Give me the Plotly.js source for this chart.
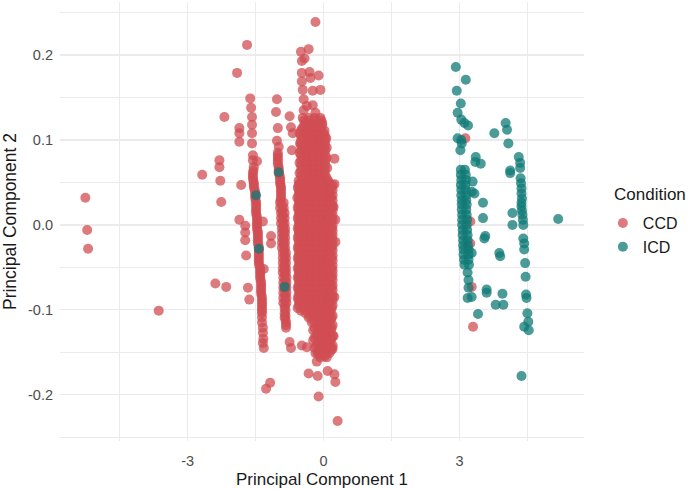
<!DOCTYPE html>
<html><head><meta charset="utf-8">
<script src="https://cdn.plot.ly/plotly-3.0.1.min.js"></script>
<style>html,body{margin:0;padding:0;background:#fff}</style>
</head><body><div id="chart" style="width:690px;height:489px"></div>
<script>
const seriesNames = ['CCD', 'ICD'];
const legendTitle = 'Condition';
const xTitle = 'Principal Component 1';
const yTitle = 'Principal Component 2';
const xTickVals = [-3, 0, 3];
const xTickText = ['-3', '0', '3'];
const xMinorVals = [-4.5, -1.5, 1.5, 4.5];
const yTickVals = [-0.2, -0.1, 0, 0.1, 0.2];
const yTickText = ['-0.2', '-0.1', '0.0', '0.1', '0.2'];
const yMinorVals = [-0.25, -0.15, -0.05, 0.05, 0.15, 0.25];

// CCD: isolated / sparse points
const ccdSparseX = [
  -5.26, -5.22, -5.20, -3.64, -2.39, -2.15, -2.68, -2.28, -2.26, -1.86, -1.82,
  -1.69, -1.91, -2.19, -1.86, -1.86, -1.86, -2.30, -2.30,
  -1.73, -1.73, -1.73, -1.71, -1.67, -1.64, -1.16, -1.16, -1.18, -1.27,
  -1.62, -1.60, -1.58, -1.58, -1.58, -1.58, -1.56, -1.56, -1.54, -1.47,
  -1.34, -1.32, -1.33,
  -1.03, -1.05, -1.01, -1.03, -0.99, -1.01,
  -0.18, -0.50, -0.33, -0.48, -0.42, -0.48, -0.31, -0.11, -0.48, -0.29,
  -0.46, -0.24, -0.07, -0.44, -0.37, -0.24, -0.18, -0.44,
  -0.75, -0.72, -0.68, -0.70, 0.24, 0.24,
  0.22, 0.26, 0.26, 0.24, 0.22,
  -0.33, -0.13, 0.09, 0.24, 0.26, -0.11, 0.31, -0.48, -0.37, -0.18, -0.15,
  0.02, 0.20, -0.75, -0.72,
  3.13, 3.24, 3.24, 3.27, 3.30
];
const ccdSparseY = [
  0.032, -0.006, -0.028, -0.101, -0.069, -0.073, 0.059, 0.052, 0.027, 0.006, 0.047,
  0.212, 0.179, 0.127, 0.114, 0.108, 0.098, 0.076, 0.068,
  -0.001, -0.009, -0.018, -0.036, -0.074, -0.088, -0.013, -0.022, -0.186, -0.193,
  0.149, 0.138, 0.127, 0.118, 0.108, 0.096, 0.082, 0.076, 0.068, 0.075,
  0.004, -0.052, -0.134,
  0.148, 0.133, 0.114, 0.099, 0.092, 0.085,
  0.239, 0.204, 0.207, 0.193, 0.196, 0.179, 0.180, 0.176, 0.169, 0.173,
  0.159, 0.158, 0.159, 0.148, 0.140, 0.141, 0.132, 0.135,
  0.128, 0.115, 0.108, 0.088, 0.078, 0.048,
  0.021, 0.006, -0.020, -0.085, -0.131,
  -0.175, -0.178, -0.172, -0.176, -0.185, -0.202, -0.231, -0.142, -0.144, -0.151, -0.161,
  -0.155, -0.146, -0.138, -0.145,
  0.102, 0.004, -0.022, -0.073, -0.120
];

// CCD: dense vertical bands, one row per height with the x of each point in it
const ccdRowY = [
  0.126, 0.120, 0.114, 0.108, 0.102, 0.096, 0.091, 0.085, 0.079, 0.073,
  0.067, 0.061, 0.055, 0.049, 0.044, 0.038, 0.032, 0.026, 0.020, 0.014,
  0.008, 0.002, -0.004, -0.009, -0.015, -0.021, -0.027, -0.033, -0.039, -0.045,
  -0.051, -0.056, -0.062, -0.068, -0.074, -0.080, -0.086, -0.092, -0.098, -0.104,
  -0.109, -0.115, -0.121, -0.127, -0.133, -0.139, -0.145, -0.151, -0.156
];
const ccdRowX = [
  [-0.46, -0.33, -0.20, -0.07],
  [-0.40, -0.26, -0.13, -0.03],
  [-0.47, -0.33, -0.19, -0.07],
  [-0.53, -0.39, -0.26, -0.13, 0.00],
  [-0.46, -0.34, -0.20, -0.07, 0.06],
  [-0.52, -0.39, -0.25, -0.13, 0.01],
  [-0.46, -0.33, -0.20, -0.06, 0.07],
  [-0.53, -0.40, -0.26, -0.12, 0.00],
  [-1.01, -0.46, -0.33, -0.21, -0.07, 0.07],
  [-1.01, -0.53, -0.39, -0.26, -0.13, 0.01],
  [-0.99, -0.46, -0.32, -0.20, -0.07, 0.08],
  [-1.56, -0.99, -0.53, -0.39, -0.26, -0.14, 0.00],
  [-1.56, -0.96, -0.46, -0.33, -0.20, -0.07, 0.07],
  [-1.54, -0.96, -0.53, -0.39, -0.26, -0.13, 0.00, 0.13],
  [-1.54, -0.94, -0.57, -0.46, -0.33, -0.20, -0.07, 0.07, 0.18],
  [-1.51, -0.94, -0.53, -0.39, -0.26, -0.13, 0.00, 0.13],
  [-1.51, -0.94, -0.58, -0.46, -0.33, -0.20, -0.07, 0.07, 0.17],
  [-1.49, -0.96, -0.88, -0.53, -0.39, -0.26, -0.13, 0.00, 0.13],
  [-1.49, -0.96, -0.88, -0.57, -0.46, -0.33, -0.20, -0.07, 0.07, 0.18],
  [-1.49, -0.94, -0.86, -0.53, -0.39, -0.26, -0.13, 0.00, 0.13],
  [-1.47, -0.94, -0.86, -0.57, -0.46, -0.33, -0.20, -0.07, 0.07, 0.18],
  [-1.47, -0.94, -0.86, -0.53, -0.39, -0.26, -0.13, 0.00, 0.13],
  [-1.47, -0.92, -0.85, -0.57, -0.46, -0.33, -0.20, -0.07, 0.07, 0.18],
  [-1.45, -0.92, -0.85, -0.53, -0.39, -0.26, -0.13, 0.00, 0.13],
  [-1.45, -0.92, -0.85, -0.57, -0.46, -0.33, -0.20, -0.07, 0.07, 0.18],
  [-1.45, -0.92, -0.85, -0.53, -0.39, -0.26, -0.13, 0.00, 0.13],
  [-1.43, -0.92, -0.85, -0.57, -0.46, -0.33, -0.20, -0.07, 0.07, 0.18],
  [-1.43, -0.90, -0.83, -0.53, -0.39, -0.26, -0.13, 0.00, 0.13],
  [-1.43, -0.90, -0.83, -0.57, -0.46, -0.33, -0.20, -0.07, 0.07, 0.18],
  [-1.43, -0.90, -0.83, -0.53, -0.39, -0.26, -0.13, 0.00, 0.13],
  [-1.40, -0.90, -0.83, -0.57, -0.46, -0.33, -0.20, -0.07, 0.07, 0.18],
  [-1.40, -0.90, -0.83, -0.53, -0.39, -0.26, -0.13, 0.00, 0.13],
  [-1.40, -0.89, -0.82, -0.57, -0.46, -0.33, -0.20, -0.07, 0.07, 0.18],
  [-1.38, -0.89, -0.82, -0.53, -0.39, -0.26, -0.13, 0.00, 0.13],
  [-1.38, -0.89, -0.82, -0.57, -0.46, -0.33, -0.20, -0.07, 0.07, 0.18],
  [-1.38, -0.89, -0.82, -0.53, -0.39, -0.26, -0.13, 0.00, 0.13],
  [-1.36, -0.89, -0.82, -0.57, -0.46, -0.33, -0.20, -0.07, 0.07, 0.18],
  [-1.36, -0.89, -0.82, -0.53, -0.39, -0.26, -0.13, 0.00, 0.13],
  [-1.36, -0.86, -0.57, -0.46, -0.33, -0.20, -0.07, 0.07, 0.18],
  [-1.36, -0.86, -0.40, -0.26, -0.13, 0.00, 0.13],
  [-1.36, -0.86, -0.33, -0.20, -0.07, 0.07, 0.18],
  [-1.36, -0.83, -0.26, -0.13, 0.00, 0.13],
  [-1.34, -0.83, -0.20, -0.07, 0.07, 0.18],
  [-1.34, -0.13, 0.00, 0.13],
  [-0.20, -0.07, 0.07, 0.18],
  [-1.34, -0.13, 0.00, 0.13],
  [-1.32, -0.20, -0.07, 0.07, 0.18],
  [-0.13, 0.00, 0.13],
  [-0.07, 0.07]
];
// CCD: points lying between the rows above inside the same bands
const ccdMidY = [
  0.123, 0.117, 0.111, 0.105, 0.099, 0.094, 0.088, 0.082, 0.076, 0.070,
  0.064, 0.058, 0.052, 0.047, 0.041, 0.035, 0.029, 0.023, 0.017, 0.011,
  0.005, -0.001, -0.007, -0.012, -0.018, -0.024, -0.030, -0.036, -0.042, -0.048,
  -0.054, -0.059, -0.065, -0.071, -0.077, -0.083, -0.089, -0.095, -0.101, -0.107,
  -0.112, -0.118, -0.124, -0.130, -0.136, -0.142, -0.148, -0.153
];
const ccdMidX = [
  [-0.43, -0.30, -0.16, -0.05],
  [-0.43, -0.30, -0.16, -0.03],
  [-0.50, -0.36, -0.23, -0.10, 0.02],
  [-0.50, -0.36, -0.23, -0.10, 0.03],
  [-0.50, -0.36, -0.23, -0.10, 0.04],
  [-0.50, -0.36, -0.23, -0.10, 0.03],
  [-0.50, -0.36, -0.23, -0.10, 0.04],
  [-1.01, -0.50, -0.36, -0.23, -0.10, 0.03],
  [-1.01, -0.50, -0.36, -0.23, -0.10, 0.04],
  [-1.00, -0.50, -0.36, -0.23, -0.10, 0.04],
  [-1.55, -0.99, -0.50, -0.36, -0.23, -0.10, 0.03],
  [-1.56, -0.97, -0.50, -0.36, -0.23, -0.10, 0.04],
  [-1.55, -0.96, -0.55, -0.43, -0.30, -0.16, -0.03, 0.10],
  [-1.54, -0.95, -0.55, -0.43, -0.30, -0.16, -0.03, 0.10, 0.20],
  [-1.52, -0.94, -0.55, -0.43, -0.30, -0.16, -0.03, 0.10, 0.20],
  [-1.51, -0.94, -0.55, -0.43, -0.30, -0.16, -0.03, 0.10, 0.20],
  [-1.50, -0.95, -0.55, -0.43, -0.30, -0.16, -0.03, 0.10, 0.20],
  [-1.49, -0.92, -0.55, -0.43, -0.30, -0.16, -0.03, 0.10, 0.20],
  [-1.49, -0.91, -0.55, -0.43, -0.30, -0.16, -0.03, 0.10, 0.20],
  [-1.48, -0.90, -0.55, -0.43, -0.30, -0.16, -0.03, 0.10, 0.20],
  [-1.47, -0.90, -0.55, -0.43, -0.30, -0.16, -0.03, 0.10, 0.20],
  [-1.47, -0.89, -0.55, -0.43, -0.30, -0.16, -0.03, 0.10, 0.20],
  [-1.46, -0.88, -0.55, -0.43, -0.30, -0.16, -0.03, 0.10, 0.20],
  [-1.45, -0.88, -0.55, -0.43, -0.30, -0.16, -0.03, 0.10, 0.20],
  [-1.45, -0.88, -0.55, -0.43, -0.30, -0.16, -0.03, 0.10, 0.20],
  [-1.44, -0.88, -0.55, -0.43, -0.30, -0.16, -0.03, 0.10, 0.20],
  [-1.43, -0.87, -0.55, -0.43, -0.30, -0.16, -0.03, 0.10, 0.20],
  [-1.43, -0.86, -0.55, -0.43, -0.30, -0.16, -0.03, 0.10, 0.20],
  [-1.43, -0.86, -0.55, -0.43, -0.30, -0.16, -0.03, 0.10, 0.20],
  [-1.42, -0.86, -0.55, -0.43, -0.30, -0.16, -0.03, 0.10, 0.20],
  [-1.40, -0.86, -0.55, -0.43, -0.30, -0.16, -0.03, 0.10, 0.20],
  [-1.40, -0.85, -0.55, -0.43, -0.30, -0.16, -0.03, 0.10, 0.20],
  [-1.39, -0.85, -0.55, -0.43, -0.30, -0.16, -0.03, 0.10, 0.20],
  [-1.38, -0.85, -0.55, -0.43, -0.30, -0.16, -0.03, 0.10, 0.20],
  [-1.38, -0.85, -0.55, -0.43, -0.30, -0.16, -0.03, 0.10, 0.20],
  [-1.37, -0.85, -0.55, -0.43, -0.30, -0.16, -0.03, 0.10, 0.20],
  [-1.36, -0.85, -0.55, -0.43, -0.30, -0.16, -0.03, 0.10, 0.20],
  [-1.36, -0.85, -0.55, -0.43, -0.30, -0.16, -0.03, 0.10, 0.20],
  [-1.36, -0.84, -0.50, -0.36, -0.23, -0.10, 0.03, 0.16],
  [-0.84, -0.30, -0.16, -0.03, 0.10, 0.20],
  [-0.84, -0.23, -0.10, 0.03, 0.16],
  [-0.83, -0.16, -0.03, 0.10, 0.20],
  [-0.23, -0.10, 0.03, 0.16],
  [-0.16, -0.03, 0.10, 0.20],
  [-0.23, -0.10, 0.03, 0.16],
  [-0.16, -0.03, 0.10, 0.20],
  [-0.10, 0.03, 0.16],
  [-0.10, 0.03]
];

// ICD: isolated / sparse points
const icdSparseX = [
  -1.49, -1.43, -0.99, -0.86,
  2.92, 3.14, 2.94, 3.03, 2.96, 3.04, 3.11, 3.19, 4.02, 4.05, 3.77, 4.08,
  2.96, 3.04, 3.02, 3.05, 3.36, 3.35, 3.47, 4.31, 4.34, 4.34, 4.12, 4.12,
  4.35, 4.37, 4.37, 4.37, 4.37, 4.17, 4.39, 4.17, 4.41, 4.41, 4.43, 4.43,
  4.45, 4.46, 4.47, 4.48, 4.50, 4.52, 4.43, 4.53, 4.37,
  3.33, 3.52, 3.52, 3.57, 3.55, 3.88, 3.90, 3.60, 3.60, 3.95, 3.80, 3.97, 3.41, 5.18,
  3.18, 3.20, 3.20, 3.18, 3.27, 3.27, 3.29, 3.27,
  4.36, 4.38, 4.38, 4.40
];
const icdSparseY = [
  0.035, -0.028, 0.062, -0.073,
  0.186, 0.171, 0.158, 0.143, 0.132, 0.124, 0.120, 0.117, 0.120, 0.112, 0.108, 0.096,
  0.102, 0.100, 0.088, 0.096, 0.080, 0.074, 0.072, 0.080, 0.073, 0.067, 0.064, 0.061,
  0.055, 0.043, 0.037, 0.026, 0.022, 0.014, 0.012, 0.000, 0.000, -0.016, -0.022, -0.029,
  -0.045, -0.061, -0.082, -0.086, -0.104, -0.114, -0.120, -0.124, -0.178,
  0.037, 0.026, 0.008, -0.013, -0.016, -0.033, -0.037, -0.076, -0.080, -0.081, -0.094, -0.094, -0.105, 0.007,
  -0.056, -0.065, -0.074, -0.086, -0.085, -0.033, 0.051, 0.039,
  0.049, 0.031, 0.017, 0.006
];
// ICD: dense band near PC1 = 3
const icdRowY = [
  0.065, 0.059, 0.053, 0.047, 0.041, 0.035, 0.029, 0.024, 0.018, 0.012,
  0.006, 0.000, -0.006, -0.012, -0.018, -0.024, -0.029, -0.035, -0.041, -0.047
];
const icdRowX = [
  [3.03, 3.12], [3.03, 3.14], [3.04, 3.14], [3.03, 3.13], [3.04, 3.14],
  [3.04, 3.15], [3.05, 3.15], [3.05, 3.16], [3.05, 3.15], [3.06, 3.16],
  [3.06, 3.17], [3.06, 3.16], [3.07, 3.17], [3.07, 3.18], [3.08, 3.18],
  [3.08, 3.19], [3.09, 3.20], [3.09, 3.20], [3.10, 3.20], [3.11, 3.21]
];

function collect(sx, sy, groups) {
  const xs = sx.slice(), ys = sy.slice();
  groups.forEach(([rowY, rowX]) =>
    rowY.forEach((y, i) => rowX[i].forEach(x => { xs.push(x); ys.push(y); })));
  return [xs, ys];
}
const [ccdX, ccdY] = collect(ccdSparseX, ccdSparseY, [[ccdRowY, ccdRowX], [ccdMidY, ccdMidX]]);
const [icdX, icdY] = collect(icdSparseX, icdSparseY, [[icdRowY, icdRowX]]);

const FONT = 'Liberation Sans, Arial, sans-serif';
const traces = [
  {type: 'scatter', mode: 'markers', name: seriesNames[0], x: ccdX, y: ccdY,
   marker: {size: 10, color: 'rgb(208,78,83)', opacity: 0.75, line: {width: 0}}},
  {type: 'scatter', mode: 'markers', name: seriesNames[1], x: icdX, y: icdY,
   marker: {size: 10, color: 'rgb(15,121,118)', opacity: 0.75, line: {width: 0}}}
];
const gridC = '#ebebeb';
const layout = {
  width: 690, height: 489,
  margin: {l: 60, r: 106, t: 2, b: 48},
  paper_bgcolor: '#ffffff', plot_bgcolor: '#ffffff',
  font: {family: FONT, color: '#4d4d4d'},
  showlegend: true,
  xaxis: {
    range: [-5.82, 5.75], tickvals: xTickVals, ticktext: xTickText,
    showgrid: true, gridcolor: gridC, gridwidth: 1.2, zeroline: false, showline: false, ticks: '',
    tickfont: {family: FONT, size: 14.5, color: '#4d4d4d'},
    ticklabelstandoff: 9,
    minor: {tickvals: xMinorVals, showgrid: true, gridcolor: gridC, gridwidth: 1},
    title: {text: xTitle, font: {family: FONT, size: 17, color: '#1a1a1a'}, standoff: 6},
    automargin: false
  },
  yaxis: {
    range: [-0.2545, 0.2625], tickvals: yTickVals, ticktext: yTickText,
    showgrid: true, gridcolor: gridC, gridwidth: 1.2, zeroline: false, showline: false, ticks: '',
    tickfont: {family: FONT, size: 14.5, color: '#4d4d4d'},
    ticklabelstandoff: 6,
    minor: {tickvals: yMinorVals, showgrid: true, gridcolor: gridC, gridwidth: 1},
    title: {text: yTitle, font: {family: FONT, size: 17.5, color: '#1a1a1a'}, standoff: 6},
    automargin: false
  },
  legend: {
    x: 1.036, xanchor: 'left', y: 0.535, yanchor: 'top',
    font: {family: FONT, size: 16, color: '#1a1a1a'},
    bgcolor: 'rgba(0,0,0,0)', borderwidth: 0, tracegroupgap: 0
  },
  annotations: [{
    text: legendTitle, xref: 'paper', yref: 'paper', x: 1.0534, xanchor: 'left',
    y: 0.5604, yanchor: 'middle', showarrow: false,
    font: {family: FONT, size: 17, color: '#1a1a1a'}
  }]
};
Plotly.newPlot('chart', traces, layout, {displayModeBar: false, staticPlot: true});
</script>
</body></html>
